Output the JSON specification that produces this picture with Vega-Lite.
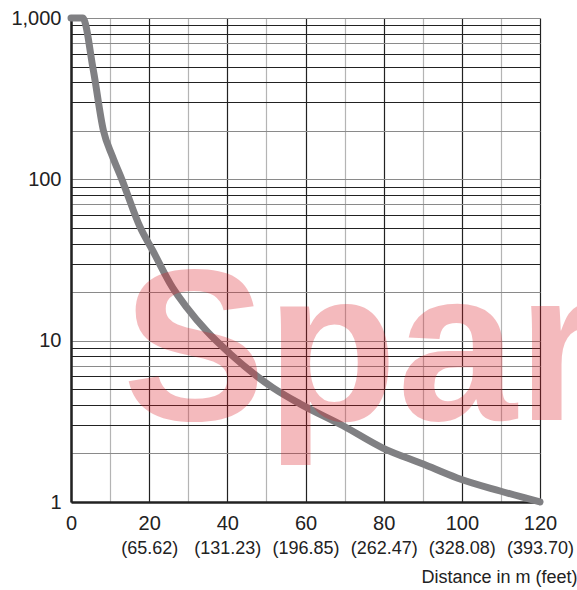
{
  "$schema": "https://vega.github.io/schema/vega-lite/v6.json",
  "width": 469,
  "height": 484,
  "autosize": "none",
  "padding": {"left": 71, "top": 18, "right": 37, "bottom": 88},
  "config": {"view": {"stroke": null}, "font": "Liberation Sans"},
  "datasets": {
    "curve": [
      {"distance": 0, "value": 1000},
      {"distance": 3, "value": 1000},
      {"distance": 5.71, "value": 475},
      {"distance": 8.29, "value": 201},
      {"distance": 10.59, "value": 139},
      {"distance": 13, "value": 100},
      {"distance": 17.7, "value": 50.4},
      {"distance": 20.9, "value": 36.2},
      {"distance": 26, "value": 21.3},
      {"distance": 29.6, "value": 16.1},
      {"distance": 34.8, "value": 11.4},
      {"distance": 40.7, "value": 8.3},
      {"distance": 51.7, "value": 5.1},
      {"distance": 58.6, "value": 4.06},
      {"distance": 69.6, "value": 2.97},
      {"distance": 79.8, "value": 2.16},
      {"distance": 90.1, "value": 1.72},
      {"distance": 98.8, "value": 1.41},
      {"distance": 109.8, "value": 1.17},
      {"distance": 120, "value": 1.0}
    ]
  },
  "layer": [
    {
      "data": {"name": "curve"},
      "mark": {"type": "line", "color": "#808083", "strokeWidth": 7, "strokeCap": "round", "strokeJoin": "round", "interpolate": "monotone"},
      "encoding": {
        "x": {
          "field": "distance", "type": "quantitative",
          "scale": {"domain": [0, 120], "nice": false, "zero": false},
          "axis": {
            "orient": "bottom",
            "values": [0, 10, 20, 30, 40, 50, 60, 70, 80, 90, 100, 110, 120],
            "format": "d",
            "labelExpr": "datum.value % 20 === 0 ? datum.label : ''",
            "labelFontSize": 20, "labelColor": "#222", "labelPadding": 11,
            "labelFlush": false, "labelOverlap": false,
            "ticks": false,
            "grid": true,
            "gridColor": {"condition": {"test": "datum.value % 20 === 0", "value": "#222"}, "value": "#b4b4b4"},
            "gridWidth": 1.2,
            "domainColor": "#222", "domainWidth": 2.5,
            "title": null
          }
        },
        "y": {
          "field": "value", "type": "quantitative",
          "scale": {"type": "log", "domain": [1, 1000], "nice": false},
          "axis": {
            "values": [1, 2, 3, 4, 5, 6, 7, 8, 9, 10, 20, 30, 40, 50, 60, 70, 80, 90, 100, 200, 300, 400, 500, 600, 700, 800, 900, 1000],
            "labelExpr": "indexof([1, 10, 100, 1000], datum.value) >= 0 ? format(datum.value, ',') : ''",
            "labelFontSize": 20, "labelColor": "#222", "labelPadding": 10,
            "labelOverlap": false, "labelFlush": false,
            "ticks": false,
            "grid": true,
            "gridColor": {"condition": {"test": "indexof([1, 2, 7, 10, 20, 70, 100, 200, 700, 1000], datum.value) >= 0", "value": "#8a8a8a"}, "value": "#222"},
            "gridWidth": 1.2,
            "domainColor": "#222", "domainWidth": 2.5,
            "title": null
          }
        }
      }
    },
    {
      "data": {"name": "curve"},
      "mark": {"type": "line", "opacity": 0},
      "encoding": {
        "x": {
          "field": "distance", "type": "quantitative",
          "axis": {
            "orient": "bottom",
            "values": [20, 40, 60, 80, 100, 120],
            "labelExpr": "'(' + format(datum.value * 3.28084, '.2f') + ')'",
            "labelFontSize": 18, "labelColor": "#222", "labelPadding": 8,
            "labelFlush": false, "labelOverlap": false,
            "offset": 29,
            "ticks": false, "domain": false, "grid": false,
            "title": "Distance in m (feet)",
            "titleFontSize": 18, "titleFontWeight": "normal", "titleColor": "#222",
            "titleAlign": "right", "titleAnchor": "end", "titleBaseline": "alphabetic",
            "titleX": 506, "titleY": 51
          }
        },
        "y": {"field": "value", "type": "quantitative"}
      }
    },
    {
      "data": {"values": [{}]},
      "mark": {"type": "text", "text": "Spar", "font": "Liberation Sans", "fontWeight": "bold", "fontSize": 215, "color": "#dc1e28", "opacity": 0.3, "align": "left", "baseline": "alphabetic"},
      "encoding": {
        "x": {"datum": 13.2, "type": "quantitative", "axis": null},
        "y": {"datum": 3.23, "type": "quantitative"}
      }
    }
  ],
  "resolve": {"axis": {"x": "independent"}}
}
